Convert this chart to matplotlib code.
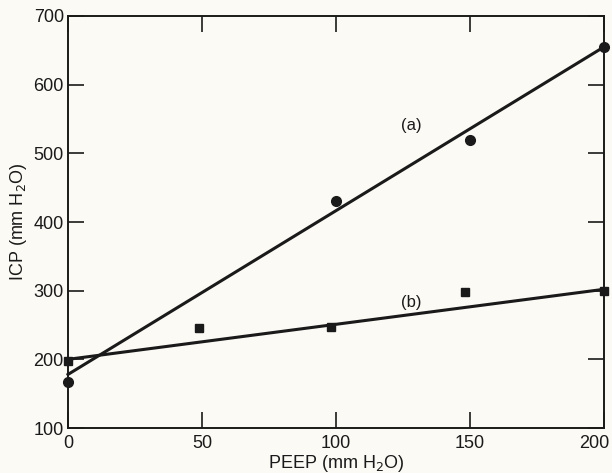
import matplotlib.pyplot as plt
import matplotlib.transforms as mtransforms

plt.rcParams['font.family'] = ['Liberation Sans', 'DejaVu Sans']

# data
peep_a = [0, 100, 150, 200]
icp_a = [167, 430, 520, 655]
peep_b = [0, 49, 98, 148, 200]
icp_b = [197, 245, 247, 298, 300]

# fitted lines as drawn
line_x = [0, 200]
line_a = [178, 655]
line_b = [200, 302]

xticks = [0, 50, 100, 150, 200]
yticks = [100, 200, 300, 400, 500, 600, 700]

bg = '#fcfaf5'
ink = '#1a1a1a'

fig = plt.figure(figsize=(6.12, 4.73), dpi=100, facecolor=bg)
ax = fig.add_axes([68 / 612, 45 / 473, 536 / 612, 412 / 473], facecolor=bg)

ax.plot(line_x, line_a, color=ink, lw=2.2, clip_on=False)
ax.plot(line_x, line_b, color=ink, lw=2.2, clip_on=False)
ax.plot(peep_a, icp_a, 'o', color=ink, ms=7, clip_on=False)
ax.plot(peep_b, icp_b, 's', color=ink, ms=6, clip_on=False)

ax.text(128, 541, '(a)', fontsize=12, color=ink, ha='center', va='center')
ax.text(128, 283, '(b)', fontsize=12, color=ink, ha='center', va='center')

ax.set_xlim(0, 200)
ax.set_ylim(100, 700)
ax.set_xticks(xticks)
ax.set_yticks(yticks)
ax.tick_params(direction='in', length=11.5, width=1.2, top=True, right=True,
               labelsize=13, colors=ink)
ax.tick_params(axis='x', pad=5)
ax.tick_params(axis='y', pad=3)
for s in ax.spines.values():
    s.set_linewidth(1.4)
    s.set_color(ink)

# the last x label sits a little left of its tick, as in the original
last = ax.get_xticklabels()[-1]
last.set_transform(last.get_transform() +
                   mtransforms.ScaledTranslation(-0.1, 0, fig.dpi_scale_trans))

ax.set_xlabel('PEEP (mm H$_2$O)', fontsize=13, color=ink, labelpad=1)
ax.set_ylabel('ICP (mm H$_2$O)', fontsize=13, color=ink, labelpad=3)

fig.savefig('out.png', dpi=100, facecolor=bg)
